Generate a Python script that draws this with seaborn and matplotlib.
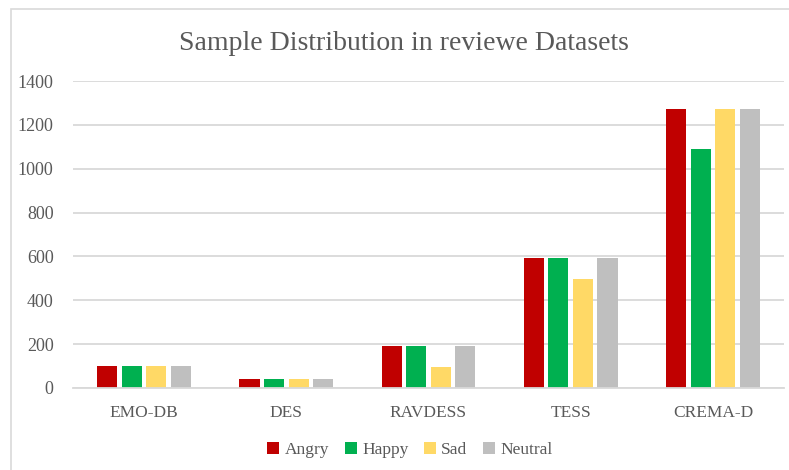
import pandas as pd
import seaborn as sns
import matplotlib.pyplot as plt
from matplotlib.patches import Rectangle

# Values
datasets = ["EMO-DB", "DES", "RAVDESS", "TESS", "CREMA-D"]
emotions = ["Angry", "Happy", "Sad", "Neutral"]
angry = [100, 41, 192, 593, 1271]
happy = [100, 41, 192, 593, 1088]
sad = [100, 41, 96, 497, 1271]
neutral = [100, 41, 192, 593, 1271]
colors = ["#C00000", "#00B050", "#FFD966", "#BFBFBF"]

df = pd.DataFrame({"Dataset": datasets, "Angry": angry, "Happy": happy,
                   "Sad": sad, "Neutral": neutral})
df = df.melt(id_vars="Dataset", var_name="Emotion", value_name="Samples")

sns.set_style("white")
plt.rcParams["font.family"] = ["Liberation Serif", "DejaVu Serif"]
text_col = "#595959"

fig = plt.figure(figsize=(7.89, 4.70), dpi=100)
ax = fig.add_axes([73 / 789, 1 - 388 / 470, (784 - 73) / 789, (388 - 81) / 470])

sns.barplot(data=df, x="Dataset", y="Samples", hue="Emotion",
            hue_order=emotions, palette=colors, saturation=1,
            width=0.69, gap=0.18, linewidth=0, ax=ax)

ax.set_ylim(0, 1400)
ax.set_yticks(range(0, 1401, 200))
ax.yaxis.grid(True, color="#D9D9D9", linewidth=1.3)
ax.set_axisbelow(True)
for s in ["top", "right", "left"]:
    ax.spines[s].set_visible(False)
ax.spines["bottom"].set_color("#D9D9D9")
ax.spines["bottom"].set_linewidth(1.3)
ax.set_xlabel("")
ax.set_ylabel("")
ax.tick_params(axis="both", length=0, colors=text_col)
ax.tick_params(axis="x", pad=12, labelsize=12.5)
ax.tick_params(axis="y", pad=14, labelsize=13)

fig.text(404 / 789, 1 - 43 / 470, "Sample Distribution in reviewe Datasets",
         ha="center", va="center", fontsize=20, color=text_col)

ax.legend(loc="center", bbox_to_anchor=(410 / 789, 1 - 450 / 470),
          bbox_transform=fig.transFigure, ncol=4, frameon=False,
          fontsize=12.5, labelcolor=text_col, handlelength=0.7,
          handleheight=0.7, handletextpad=0.3, columnspacing=0.9)

# light frame around the chart
fig.patches.append(Rectangle((11 / 789, -0.1), 1.1, 1 - 9 / 470 + 0.1,
                             transform=fig.transFigure, fill=False,
                             edgecolor="#D9D9D9", linewidth=1.2))

fig.savefig("out.png", dpi=100)
